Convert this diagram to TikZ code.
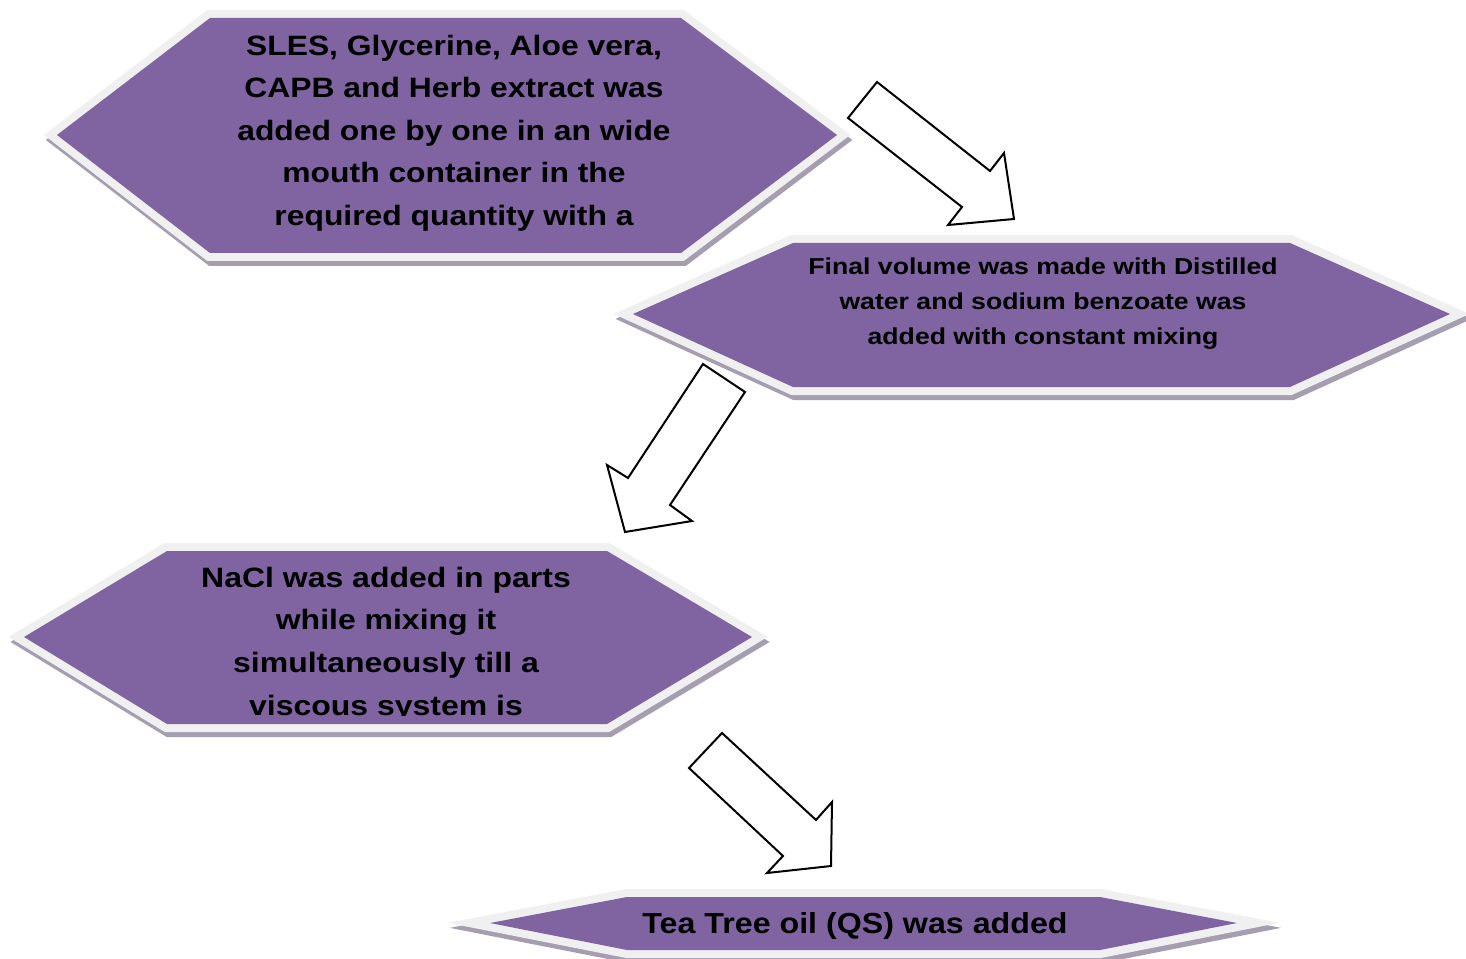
\documentclass[tikz,border=0pt]{standalone}
\usepackage{fontspec}
\setmainfont{Liberation Sans}
\definecolor{hexpurple}{HTML}{8064A2}
\definecolor{bordergray}{HTML}{F0F0F0}
\definecolor{shadowgray}{HTML}{A59DB0}
\newcommand\drawhex[1]{%
  \draw[hexshadow, shift={(2,5)}] #1 -- cycle;
  \draw[hexborder] #1 -- cycle;
  \fill[hexfill] #1 -- cycle;}
\begin{document}
\begin{tikzpicture}[x=0.75pt,y=-0.75pt, line join=miter, miter limit=20,
  hexshadow/.style={draw=shadowgray, fill=shadowgray, line width=12pt},
  hexborder/.style={draw=bordergray, fill=bordergray, line width=12pt},
  hexfill/.style={fill=hexpurple},
  blockarrow/.style={draw=black, fill=white, line width=1.5pt, line join=miter},
  steptext/.style={inner sep=0pt, align=center, text=black, transform shape},
  bigtext/.style={font=\fontsize{21}{31.9}\selectfont\bfseries},
  midtext/.style={font=\fontsize{17.25}{26.25}\selectfont\bfseries},
  lasttext/.style={font=\fontsize{21.75}{32}\selectfont\bfseries}]
\useasboundingbox[fill=white] (0,0) rectangle (1466,959);

% hexagons
\drawhex{(210,18) -- (681,18) -- (837,135) -- (681,253) -- (210,253) -- (57,135)}
\drawhex{(793,243) -- (1290,243) -- (1450,314) -- (1290,387) -- (793,387) -- (633,314)}
\drawhex{(167,551) -- (607,551) -- (752,637) -- (607,724) -- (167,724) -- (24,637)}
\drawhex{(627,897) -- (1100,897) -- (1237,923) -- (1100,950) -- (627,950) -- (490,923)}

% texts
\begin{scope}
  \clip (0,0) rectangle (1466,245);
  \node[steptext, bigtext, xscale=1.137] (s1) at (454,133) {SLES, Glycerine, Aloe vera,\\CAPB and Herb extract was\\added one by one in an wide\\mouth container in the\\required quantity with a};
\end{scope}
\node[steptext, midtext, xscale=1.158] (s2) at (1043,304) {Final volume was made with Distilled\\water and sodium benzoate was\\added with constant mixing};
\begin{scope}
  \clip (0,0) rectangle (1466,715);
  \node[steptext, bigtext, xscale=1.142] (s3) at (386,644) {NaCl was added in parts\\while mixing it\\simultaneously till a\\viscous system is};
\end{scope}
\node[steptext, lasttext, xscale=1.11] (s4) at (855,926) {Tea Tree oil (QS) was added};

% block arrows
\draw[blockarrow] (877,82) -- (990,171) -- (1004,153) -- (1014,219) -- (948,225) -- (962,207) -- (848,118) -- cycle;
\draw[blockarrow] (703,364) -- (745,392) -- (670,505) -- (692,521) -- (625,532) -- (607,465) -- (628,478) -- cycle;
\draw[blockarrow] (722,733) -- (816,820) -- (832,802) -- (831,866) -- (767,873) -- (783,856) -- (689,768) -- cycle;
\end{tikzpicture}
\end{document}
